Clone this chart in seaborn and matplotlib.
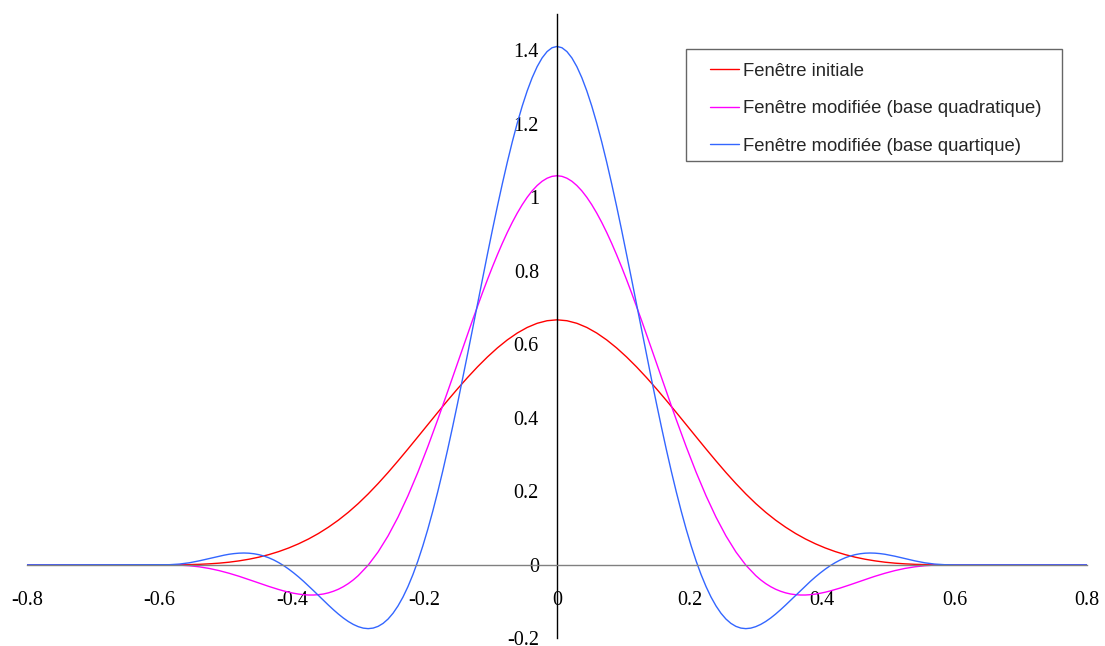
import matplotlib
matplotlib.use("Agg")
import matplotlib.pyplot as plt
from matplotlib.patches import Rectangle
import seaborn as sns
import pandas as pd

# ---- data ----
# Fenêtre initiale
x_initiale = [-0.8,
              -0.6, -0.585, -0.57, -0.555, -0.54, -0.525, -0.51, -0.495, -0.48, -0.465,
              -0.45, -0.435, -0.42, -0.405, -0.39, -0.375, -0.36, -0.345, -0.33, -0.315,
              -0.3, -0.285, -0.27, -0.255, -0.24, -0.225, -0.21, -0.195, -0.18, -0.165,
              -0.15, -0.135, -0.12, -0.105, -0.09, -0.075, -0.06, -0.045, -0.03, -0.015,
              0.0,
              0.015, 0.03, 0.045, 0.06, 0.075, 0.09, 0.105, 0.12, 0.135, 0.15,
              0.165, 0.18, 0.195, 0.21, 0.225, 0.24, 0.255, 0.27, 0.285, 0.3,
              0.315, 0.33, 0.345, 0.36, 0.375, 0.39, 0.405, 0.42, 0.435, 0.45,
              0.465, 0.48, 0.495, 0.51, 0.525, 0.54, 0.555, 0.57, 0.585, 0.6,
              0.8]
y_initiale = [0.0,
              0.0, 0.0000, 0.0002, 0.0006, 0.0013, 0.0026, 0.0045, 0.0071, 0.0107, 0.0152,
              0.0208, 0.0277, 0.0360, 0.0458, 0.0572, 0.0703, 0.0853, 0.1024, 0.1215, 0.1429,
              0.1667, 0.1929, 0.2212, 0.2512, 0.2827, 0.3151, 0.3482, 0.3815, 0.4147, 0.4474,
              0.4792, 0.5097, 0.5387, 0.5656, 0.5902, 0.6120, 0.6307, 0.6459, 0.6572, 0.6642,
              0.6667,
              0.6642, 0.6572, 0.6459, 0.6307, 0.6120, 0.5902, 0.5656, 0.5387, 0.5097, 0.4792,
              0.4474, 0.4147, 0.3815, 0.3482, 0.3151, 0.2827, 0.2512, 0.2212, 0.1929, 0.1667,
              0.1429, 0.1215, 0.1024, 0.0853, 0.0703, 0.0572, 0.0458, 0.0360, 0.0277, 0.0208,
              0.0152, 0.0107, 0.0071, 0.0045, 0.0026, 0.0013, 0.0006, 0.0002, 0.0000, 0.0,
              0.0]

# Fenêtre modifiée (base quadratique)
x_quadratique = [-0.8,
                 -0.6, -0.585, -0.57, -0.555, -0.54, -0.525, -0.51, -0.495,
                 -0.48, -0.4725, -0.465, -0.4575, -0.45,
                 -0.4425, -0.435, -0.4275, -0.42, -0.4125, -0.405, -0.3975, -0.39, -0.3825, -0.375,
                 -0.3675, -0.36, -0.3525, -0.345, -0.3375, -0.33, -0.3225, -0.315, -0.3075, -0.3,
                 -0.285, -0.27, -0.255, -0.24, -0.225, -0.21, -0.195,
                 -0.18, -0.1725, -0.165, -0.1575, -0.15,
                 -0.1425, -0.135, -0.1275, -0.12, -0.1125, -0.105, -0.0975, -0.09, -0.0825, -0.075,
                 -0.0675, -0.06, -0.0525, -0.045, -0.0375, -0.03, -0.0225, -0.015, -0.0075,
                 0.0,
                 0.0075, 0.015, 0.0225, 0.03, 0.0375, 0.045, 0.0525, 0.06, 0.0675,
                 0.075, 0.0825, 0.09, 0.0975, 0.105, 0.1125, 0.12, 0.1275, 0.135, 0.1425,
                 0.15, 0.1575, 0.165, 0.1725, 0.18,
                 0.195, 0.21, 0.225, 0.24, 0.255, 0.27, 0.285,
                 0.3, 0.3075, 0.315, 0.3225, 0.33, 0.3375, 0.345, 0.3525, 0.36, 0.3675,
                 0.375, 0.3825, 0.39, 0.3975, 0.405, 0.4125, 0.42, 0.4275, 0.435, 0.4425,
                 0.45, 0.4575, 0.465, 0.4725, 0.48,
                 0.495, 0.51, 0.525, 0.54, 0.555, 0.57, 0.585, 0.6,
                 0.8]
y_quadratique = [0.0,
                 0.0, -0.0001, -0.0008, -0.0025, -0.0055, -0.0099, -0.0158, -0.0230,
                 -0.0312, -0.0357, -0.0403, -0.0449, -0.0496,
                 -0.0543, -0.0588, -0.0632, -0.0673, -0.0711, -0.0745, -0.0774, -0.0797, -0.0813, -0.0822,
                 -0.0822, -0.0813, -0.0794, -0.0763, -0.0720, -0.0665, -0.0595, -0.0511, -0.0411, -0.0294,
                 -0.0009, 0.0351, 0.0787, 0.1297, 0.1877, 0.2519, 0.3215,
                 0.3952, 0.4332, 0.4717, 0.5106, 0.5496,
                 0.5886, 0.6274, 0.6658, 0.7034, 0.7403, 0.7760, 0.8106, 0.8436, 0.8750, 0.9045,
                 0.9319, 0.9571, 0.9799, 1.0001, 1.0176, 1.0321, 1.0437, 1.0520, 1.0571,
                 1.0588,
                 1.0571, 1.0520, 1.0437, 1.0321, 1.0176, 1.0001, 0.9799, 0.9571, 0.9319,
                 0.9045, 0.8750, 0.8436, 0.8106, 0.7760, 0.7403, 0.7034, 0.6658, 0.6274, 0.5886,
                 0.5496, 0.5106, 0.4717, 0.4332, 0.3952,
                 0.3215, 0.2519, 0.1877, 0.1297, 0.0787, 0.0351, -0.0009,
                 -0.0294, -0.0411, -0.0511, -0.0595, -0.0665, -0.0720, -0.0763, -0.0794, -0.0813, -0.0822,
                 -0.0822, -0.0813, -0.0797, -0.0774, -0.0745, -0.0711, -0.0673, -0.0632, -0.0588, -0.0543,
                 -0.0496, -0.0449, -0.0403, -0.0357, -0.0312,
                 -0.0230, -0.0158, -0.0099, -0.0055, -0.0025, -0.0008, -0.0001, 0.0,
                 0.0]

# Fenêtre modifiée (base quartique)
x_quartique = [-0.8,
               -0.6, -0.585, -0.57, -0.555,
               -0.54, -0.5325, -0.525, -0.5175, -0.51, -0.5025, -0.495, -0.4875, -0.48, -0.4725,
               -0.465, -0.4575, -0.45, -0.4425, -0.435, -0.4275, -0.42, -0.4125, -0.405, -0.3975,
               -0.39, -0.3825, -0.375, -0.3675, -0.36, -0.3525, -0.345, -0.3375, -0.33, -0.3225,
               -0.315, -0.3075, -0.3, -0.2925, -0.285, -0.2775, -0.27, -0.2625, -0.255, -0.2475,
               -0.24, -0.2325, -0.225, -0.2175, -0.21, -0.2025, -0.195, -0.1875, -0.18, -0.1725,
               -0.165, -0.1575, -0.15, -0.1425, -0.135, -0.1275, -0.12, -0.1125, -0.105, -0.0975,
               -0.09, -0.0825, -0.075, -0.0675, -0.06, -0.0525, -0.045, -0.0375, -0.03, -0.0225,
               -0.015, -0.0075,
               0.0,
               0.0075, 0.015, 0.0225, 0.03, 0.0375, 0.045, 0.0525, 0.06, 0.0675,
               0.075, 0.0825, 0.09, 0.0975, 0.105, 0.1125, 0.12, 0.1275, 0.135, 0.1425,
               0.15, 0.1575, 0.165, 0.1725, 0.18, 0.1875, 0.195, 0.2025, 0.21, 0.2175,
               0.225, 0.2325, 0.24, 0.2475, 0.255, 0.2625, 0.27, 0.2775, 0.285, 0.2925,
               0.3, 0.3075, 0.315, 0.3225, 0.33, 0.3375, 0.345, 0.3525, 0.36, 0.3675,
               0.375, 0.3825, 0.39, 0.3975, 0.405, 0.4125, 0.42, 0.4275, 0.435, 0.4425,
               0.45, 0.4575, 0.465, 0.4725, 0.48, 0.4875, 0.495, 0.5025, 0.51, 0.5175,
               0.525, 0.5325, 0.54,
               0.555, 0.57, 0.585, 0.6,
               0.8]
y_quartique = [0.0,
               0.0, 0.0003, 0.0020, 0.0055,
               0.0108, 0.0139, 0.0171, 0.0203, 0.0234, 0.0262, 0.0287, 0.0305, 0.0317, 0.0321,
               0.0316, 0.0301, 0.0276, 0.0239, 0.0191, 0.0131, 0.0059, -0.0023, -0.0117, -0.0220,
               -0.0331, -0.0450, -0.0575, -0.0704, -0.0836, -0.0967, -0.1097, -0.1222, -0.1340, -0.1448,
               -0.1543, -0.1622, -0.1683, -0.1723, -0.1737, -0.1722, -0.1675, -0.1594, -0.1476, -0.1318,
               -0.1119, -0.0878, -0.0594, -0.0267, 0.0103, 0.0516, 0.0968, 0.1460, 0.1988, 0.2549,
               0.3141, 0.3760, 0.4401, 0.5060, 0.5732, 0.6413, 0.7097, 0.7779, 0.8453, 0.9113,
               0.9755, 1.0371, 1.0958, 1.1509, 1.2019, 1.2483, 1.2896, 1.3255, 1.3555, 1.3793,
               1.3966, 1.4071,
               1.4106,
               1.4071, 1.3966, 1.3793, 1.3555, 1.3255, 1.2896, 1.2483, 1.2019, 1.1509,
               1.0958, 1.0371, 0.9755, 0.9113, 0.8453, 0.7779, 0.7097, 0.6413, 0.5732, 0.5060,
               0.4401, 0.3760, 0.3141, 0.2549, 0.1988, 0.1460, 0.0968, 0.0516, 0.0103, -0.0267,
               -0.0594, -0.0878, -0.1119, -0.1318, -0.1476, -0.1594, -0.1675, -0.1722, -0.1737, -0.1723,
               -0.1683, -0.1622, -0.1543, -0.1448, -0.1340, -0.1222, -0.1097, -0.0967, -0.0836, -0.0704,
               -0.0575, -0.0450, -0.0331, -0.0220, -0.0117, -0.0023, 0.0059, 0.0131, 0.0191, 0.0239,
               0.0276, 0.0301, 0.0316, 0.0321, 0.0317, 0.0305, 0.0287, 0.0262, 0.0234, 0.0203,
               0.0171, 0.0139, 0.0108,
               0.0055, 0.0020, 0.0003, 0.0,
               0.0]

series_names = ["Fenêtre initiale",
                "Fenêtre modifiée (base quadratique)",
                "Fenêtre modifiée (base quartique)"]
series_colors = ["#FF0000", "#FF00FF", "#3366FF"]

x_ticks = [-0.8, -0.6, -0.4, -0.2, 0.0, 0.2, 0.4, 0.6, 0.8]
x_tick_labels = ["-0.8", "-0.6", "-0.4", "-0.2", "0", "0.2", "0.4", "0.6", "0.8"]
y_ticks = [-0.2, 0.0, 0.2, 0.4, 0.6, 0.8, 1.0, 1.2, 1.4]
y_tick_labels = ["-0.2", "0", "0.2", "0.4", "0.6", "0.8", "1", "1.2", "1.4"]

# ---- long-form table ----
frames = []
for name, xs, ys in zip(series_names,
                        [x_initiale, x_quadratique, x_quartique],
                        [y_initiale, y_quadratique, y_quartique]):
    frames.append(pd.DataFrame({"x": xs, "y": ys, "serie": name}))
df = pd.concat(frames, ignore_index=True)

sns.set_style("white")
plt.rcParams["font.family"] = ["Liberation Serif", "DejaVu Serif"]

W, H = 1105, 646
fig = plt.figure(figsize=(W / 100, H / 100), dpi=100)
ax = fig.add_axes([27 / W, 1 - 638.3 / H, (1087 - 27) / W, (638.3 - 13.6) / H])

sns.lineplot(data=df, x="x", y="y", hue="serie", hue_order=series_names,
             palette=dict(zip(series_names, series_colors)),
             estimator=None, sort=False, linewidth=1.0, ax=ax)

ax.set_xlim(-0.8, 0.8)
ax.set_ylim(-0.2, 1.5)
ax.set_xlabel("")
ax.set_ylabel("")

for s in ["top", "right"]:
    ax.spines[s].set_visible(False)
ax.spines["left"].set_position(("data", 0))
ax.spines["bottom"].set_position(("data", 0))
ax.spines["left"].set_color("black")
ax.spines["left"].set_linewidth(1.0)
ax.spines["bottom"].set_color("#808080")
ax.spines["bottom"].set_linewidth(1.0)

ax.set_xticks(x_ticks)
ax.set_xticklabels(x_tick_labels)
ax.set_yticks(y_ticks)
ax.set_yticklabels(y_tick_labels)
ax.tick_params(axis="both", direction="out", length=5, width=1.0,
               color="#555555", labelsize=14.5, labelcolor="black")
ax.tick_params(axis="x", pad=14)
ax.tick_params(axis="y", pad=8)
ax.grid(False)
ax.set_facecolor("white")

# legend (frameless) + box drawn separately to match the reference padding
handles, labels = ax.get_legend_handles_labels()
leg = ax.legend(handles, labels, loc="upper left",
                bbox_to_anchor=(710 / W, 1 - 62.5 / H), bbox_transform=fig.transFigure,
                prop={"family": "Liberation Sans", "size": 13.3},
                frameon=False, borderpad=0, labelspacing=1.12,
                handlelength=1.57, handletextpad=0.22, borderaxespad=0)
leg.set_zorder(6)
for line in leg.get_lines():
    line.set_linewidth(1.0)

box = Rectangle((686 / W, 1 - 161 / H), (1062 - 686) / W, (161 - 49) / H,
                transform=fig.transFigure, facecolor="white", edgecolor="#666666",
                linewidth=1.0, clip_on=False, zorder=5)
ax.add_patch(box)

fig.savefig("out.png", dpi=100, facecolor="white")
